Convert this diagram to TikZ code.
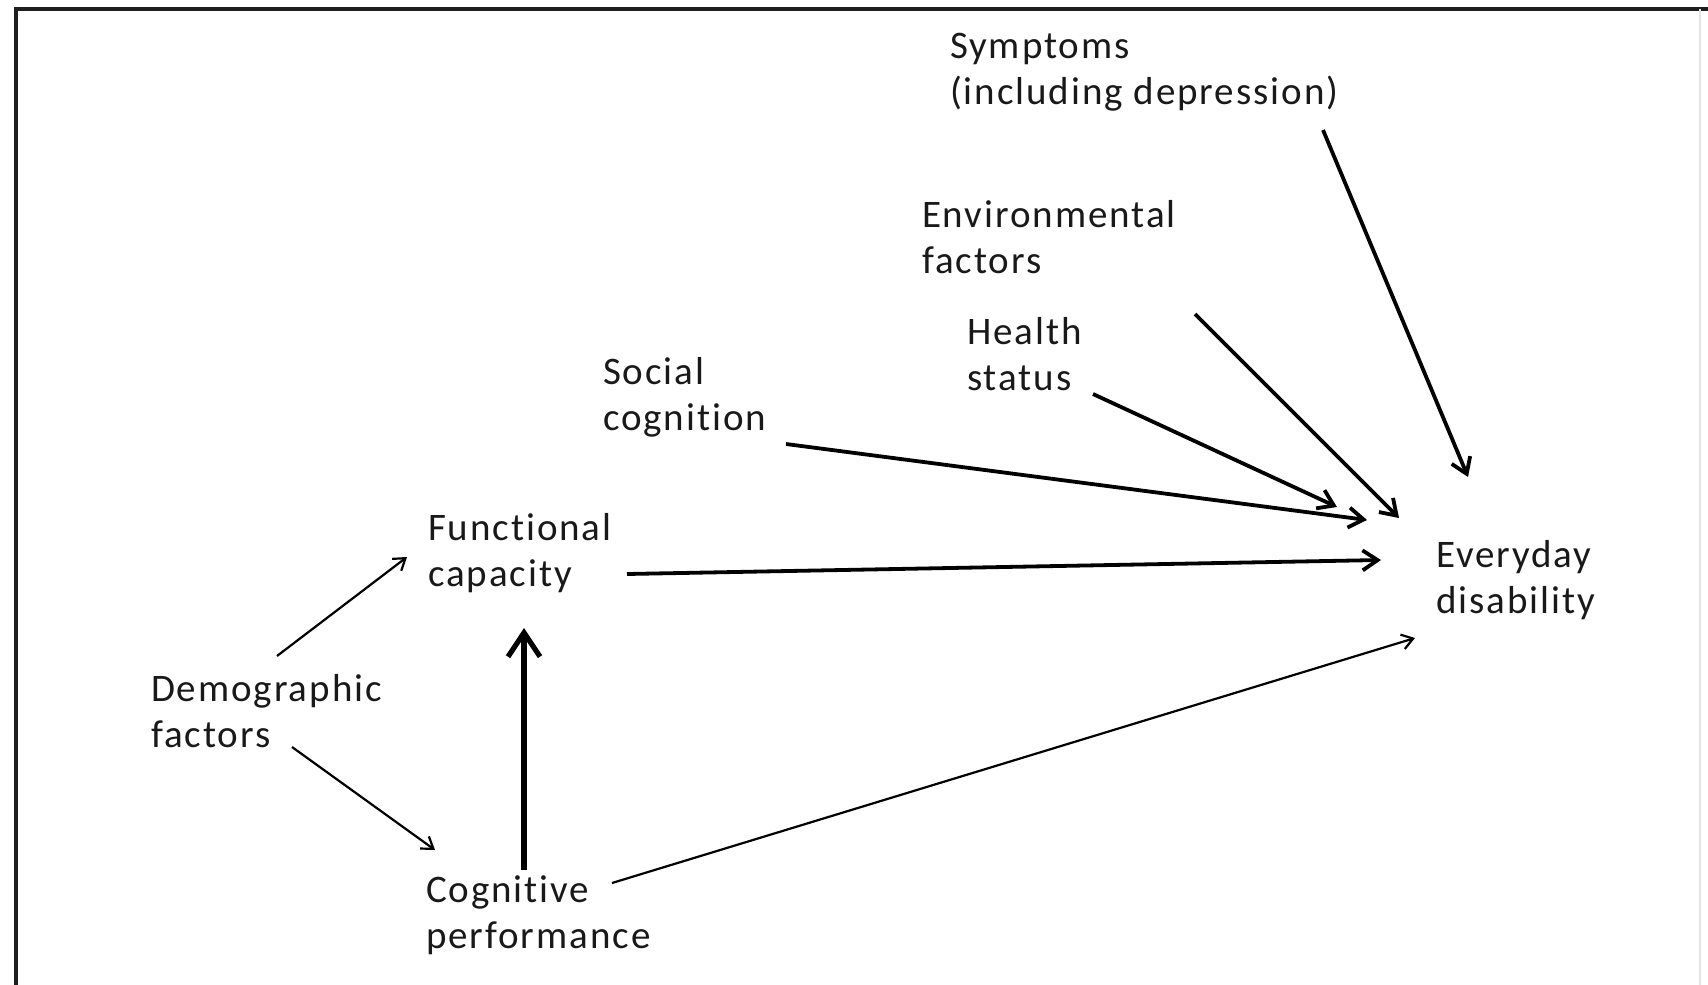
\documentclass[tikz,border=0pt]{standalone}
\usepackage{fontspec}
\setmainfont{Carlito}[LetterSpace=5, Ligatures=NoCommon]
\usetikzlibrary{arrows.meta}
\begin{document}
\begin{tikzpicture}[x=0.5pt,y=-0.5pt,
  lbl/.style={inner sep=0pt, outer sep=0pt, align=left, anchor=base west,
    font=\fontsize{19.5}{23}\selectfont, text=black!90},
  medarr/.style={line width=1.9pt, -{Straight Barb[length=7.5pt,width=10pt]}},
  thinarr/.style={line width=1.1pt, -{Straight Barb[length=5.5pt,width=7.5pt]}},
  bigarr/.style={line width=2.6pt, -{Straight Barb[length=12pt,width=16pt]}},
  frame/.style={line width=2pt, draw=black!88}]
  % canvas and frame
  \useasboundingbox (0,0) rectangle (1708,985);
  \fill[white] (0,0) rectangle (1708,985);
  \draw[frame] (15.5,985) -- (15.5,8.5) -- (1708,8.5);
  \draw[line width=1pt, draw=black!10] (1700,8.5) -- (1700,985);

  % factors (anchored at the baseline of the last line)
  \node[lbl] (sym) at (950,104)  {Symptoms\\(including depression)};
  \node[lbl] (env) at (922,273)  {Environmental\\factors};
  \node[lbl] (hs)  at (967,390)  {Health\\status};
  \node[lbl] (soc) at (603,430)  {Social\\cognition};
  \node[lbl] (fc)  at (428,586)  {Functional\\capacity};
  \node[lbl] (ev)  at (1436,613) {Everyday\\disability};
  \node[lbl] (dem) at (151,747)  {Demographic\\factors};
  \node[lbl] (cog) at (426,948)  {Cognitive\\performance};

  % paths towards everyday disability
  \draw[medarr] ([shift={(373,26)}]sym.base west) -- ([shift={(32,-136)}]ev.base west);
  \draw[medarr] ([shift={(273,41)}]env.base west) -- ([shift={(-37,-95)}]ev.base west);
  \draw[medarr] ([shift={(126,4)}]hs.base west) -- ([shift={(-99,-106)}]ev.base west);
  \draw[medarr] ([shift={(183,14)}]soc.base west) -- ([shift={(-69,-93)}]ev.base west);
  \draw[medarr] ([shift={(199,-12)}]fc.base west) -- ([shift={(-55,-53)}]ev.base west);
  \draw[thinarr] ([shift={(186,-65)}]cog.base west) -- ([shift={(-21,25)}]ev.base west);

  % demographic and cognitive paths
  \draw[thinarr] ([shift={(126,-91)}]dem.base west) -- ([shift={(-21,-29)}]fc.base west);
  \draw[thinarr] ([shift={(141,0)}]dem.base west) -- ([shift={(9,-98)}]cog.base west);
  \draw[bigarr] ([shift={(98,-78)}]cog.base west) -- ([shift={(96,42)}]fc.base west);
\end{tikzpicture}
\end{document}
